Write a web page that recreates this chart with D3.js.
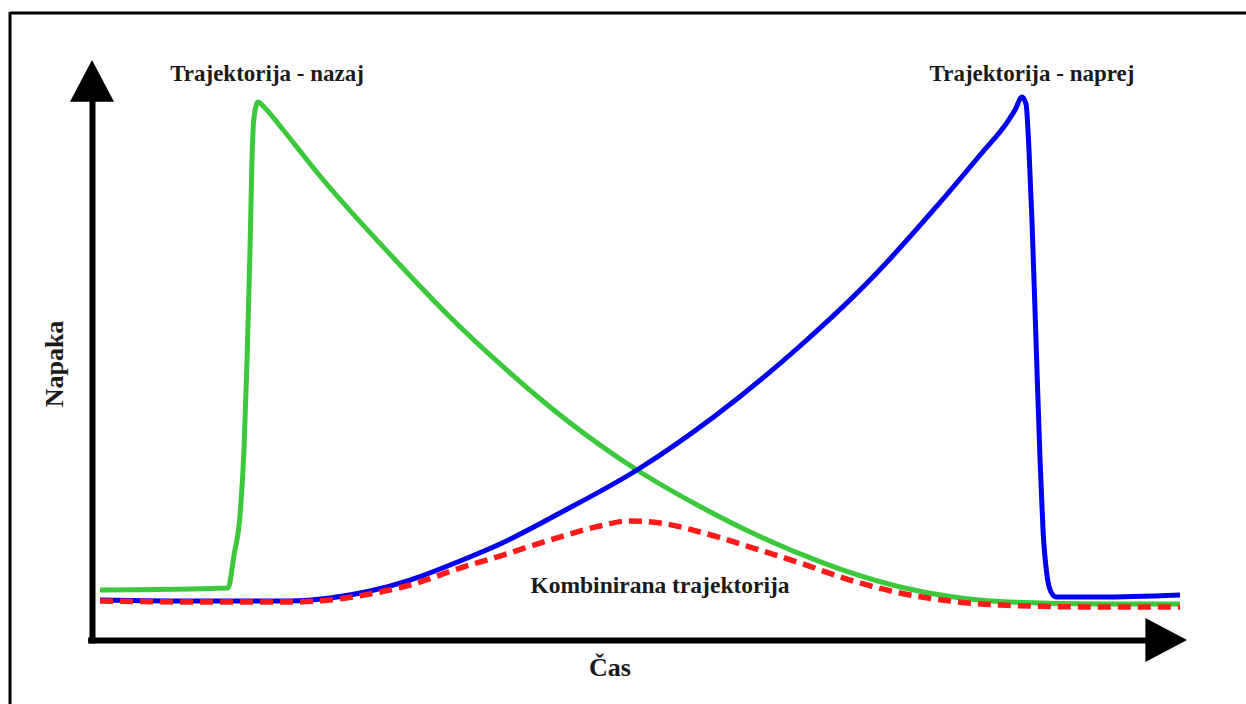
<!DOCTYPE html>
<html>
<head>
<meta charset="utf-8">
<script src="https://cdn.jsdelivr.net/npm/d3@7"></script>
<style>
  html, body { margin: 0; padding: 0; background: #fff; }
  svg { display: block; }
  .lbl { font-family: "Liberation Serif", "Times New Roman", serif; font-weight: bold; fill: #1a1a1a; }
</style>
</head>
<body>
<svg id="chart" width="1246" height="704"></svg>
<script>
// ---- data (time 0..100, error 0..100) ----
const backwardT = [0.73, 12.42, 12.97, 13.52, 13.88, 14.16, 14.43, 14.61, 14.79, 15.16, 15.71, 17.17, 20.82, 28.13, 32.69, 37.26, 43.20, 49.77, 55.53, 61.00, 66.48, 69.22, 73.79, 78.36, 82.92, 92.05, 99.36];
const backwardE = [8.62, 8.97, 14.66, 21.55, 32.76, 48.28, 67.24, 82.76, 90.00, 92.76, 91.90, 88.62, 80.00, 64.66, 55.69, 47.59, 38.10, 29.31, 23.02, 17.84, 13.50, 11.64, 9.14, 7.50, 6.64, 6.21, 6.21];

const forwardT = [0.73, 9.86, 18.08, 21.74, 25.39, 29.04, 33.61, 37.26, 42.74, 49.77, 56.89, 64.66, 71.05, 77.17, 81.10, 83.65, 84.29, 84.93, 85.30, 85.57, 85.84, 86.21, 86.58, 86.85, 87.21, 87.58, 88.04, 92.05, 99.36];
const forwardE = [6.90, 6.72, 6.72, 7.24, 8.45, 10.34, 13.62, 16.55, 21.90, 29.31, 38.62, 50.69, 62.07, 74.83, 83.62, 89.48, 91.38, 93.62, 92.41, 84.48, 72.41, 51.72, 31.03, 18.97, 11.21, 8.28, 7.41, 7.41, 7.76];

const combinedT = [0.73, 9.86, 18.08, 21.74, 25.39, 29.04, 33.61, 37.26, 41.83, 46.39, 48.95, 51.87, 55.53, 60.09, 64.66, 69.22, 73.79, 78.36, 82.92, 92.05, 99.36];
const combinedE = [6.72, 6.55, 6.55, 6.90, 7.93, 9.48, 12.41, 14.48, 17.24, 19.66, 20.52, 20.17, 18.62, 16.03, 13.28, 10.34, 8.10, 6.72, 6.03, 5.69, 5.69];

const labels = {
  backward: "Trajektorija - nazaj",
  forward: "Trajektorija - naprej",
  combined: "Kombinirana trajektorija",
  xTitle: "Čas",
  yTitle: "Napaka"
};

// ---- layout ----
const svg = d3.select("#chart");
const W = 1246, H = 704;
const x = d3.scaleLinear().domain([0, 100]).range([92, 1187]);
const y = d3.scaleLinear().domain([0, 100]).range([640, 60]);

// outer frame (top + left only, as cropped)
svg.append("line").attr("x1", 10).attr("x2", W).attr("y1", 13).attr("y2", 13)
  .attr("stroke", "#000").attr("stroke-width", 3);
svg.append("line").attr("x1", 10).attr("x2", 10).attr("y1", 12).attr("y2", H)
  .attr("stroke", "#000").attr("stroke-width", 3);

// axes (no ticks) drawn with d3 axes
const xAxis = d3.axisBottom(d3.scaleLinear().domain([0, 1]).range([x(-0.4), x(96.5)]))
  .tickValues([]).tickSizeOuter(0);
const yAxis = d3.axisLeft(d3.scaleLinear().domain([0, 1]).range([y(-0.5), y(93)]))
  .tickValues([]).tickSizeOuter(0);
svg.append("g").attr("transform", `translate(0,${y(0)})`).call(xAxis)
  .select(".domain").attr("stroke", "#000").attr("stroke-width", 6);
svg.append("g").attr("transform", `translate(${x(0)},0)`).call(yAxis)
  .select(".domain").attr("stroke", "#000").attr("stroke-width", 6);

// arrow heads
const ax0 = x(0), ay0 = y(0);
svg.append("path")
  .attr("d", `M${x(100)},${ay0} L${x(96.2)},${ay0 - 22} L${x(96.2)},${ay0 + 22} Z`)
  .attr("fill", "#000");
svg.append("path")
  .attr("d", `M${ax0},${y(100)} L${ax0 - 22},${y(92.8)} L${ax0 + 22},${y(92.8)} Z`)
  .attr("fill", "#000");

// curves
const line = d3.line().x(d => x(d[0])).y(d => y(d[1])).curve(d3.curveMonotoneX);
const zip = (a, b) => a.map((v, i) => [v, b[i]]);

svg.append("path").datum(zip(backwardT, backwardE)).attr("d", line)
  .attr("fill", "none").attr("stroke", "#3cc83c").attr("stroke-width", 5)
  .attr("stroke-linejoin", "round");
svg.append("path").datum(zip(forwardT, forwardE)).attr("d", line)
  .attr("fill", "none").attr("stroke", "#0000f0").attr("stroke-width", 5)
  .attr("stroke-linejoin", "round");
svg.append("path").datum(zip(combinedT, combinedE)).attr("d", line)
  .attr("fill", "none").attr("stroke", "#ff1a1a").attr("stroke-width", 5.5)
  .attr("stroke-dasharray", "13,7");

// labels
svg.append("text").attr("class", "lbl").attr("x", 267).attr("y", 81)
  .attr("text-anchor", "middle").attr("font-size", 23).text(labels.backward);
svg.append("text").attr("class", "lbl").attr("x", 1032).attr("y", 81)
  .attr("text-anchor", "middle").attr("font-size", 23).text(labels.forward);
svg.append("text").attr("class", "lbl").attr("x", 660).attr("y", 593)
  .attr("text-anchor", "middle").attr("font-size", 23.5).text(labels.combined);
svg.append("text").attr("class", "lbl").attr("x", 610).attr("y", 676)
  .attr("text-anchor", "middle").attr("font-size", 26).text(labels.xTitle);
svg.append("text").attr("class", "lbl")
  .attr("transform", "translate(63,364) rotate(-90)")
  .attr("text-anchor", "middle").attr("font-size", 26).text(labels.yTitle);
</script>
</body>
</html>
